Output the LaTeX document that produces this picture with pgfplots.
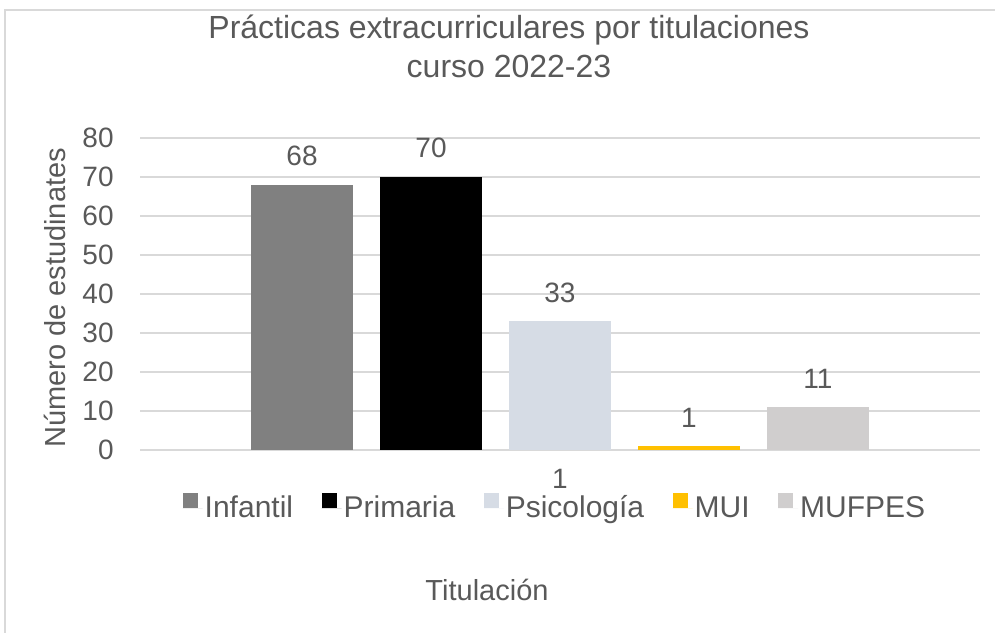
\documentclass[border=0pt]{standalone}
\usepackage{fontspec}
\setmainfont{Liberation Sans}
\usepackage{pgfplots}
\pgfplotsset{compat=1.18}
\definecolor{txt}{HTML}{595959}
\definecolor{gridc}{HTML}{D9D9D9}
\definecolor{cInf}{HTML}{808080}
\definecolor{cPri}{HTML}{000000}
\definecolor{cPsi}{HTML}{D6DCE5}
\definecolor{cMui}{HTML}{FFC000}
\definecolor{cMuf}{HTML}{D0CECE}
\begin{document}
\begin{tikzpicture}[x=0.5pt,y=0.5pt]
\path[use as bounding box] (0,0) rectangle (995,632);
\draw[gridc, line width=1pt] (5,-10) -- (5,622) -- (1005,622);
\node[text=txt, font=\fontsize{16}{19}\selectfont] at (509,602) {Prácticas extracurriculares por titulaciones};
\node[text=txt, font=\fontsize{16}{19}\selectfont] at (509,566) {curso 2022-23};
\node[rotate=90, text=txt, font=\fontsize{14.5}{17}\selectfont] at (55,334) {Número de estudinates};
\node[text=txt, font=\fontsize{14.5}{17}\selectfont] at (487,42) {Titulación};
\begin{axis}[
  at={(70pt,91pt)}, anchor=south west, scale only axis,
  width=420pt, height=156pt,
  xmin=-3.256, xmax=3.256, ymin=0, ymax=80,
  ytick={0,10,...,80}, xtick={0}, xticklabels={1},
  axis line style={draw=none}, major tick length=0pt,
  ymajorgrids, grid style={gridc, line width=1pt},
  clip=false,
  /pgf/number format/assume math mode=true,
  tick label style={font=\fontsize{14}{16}\selectfont, text=txt},
  yticklabel style={inner sep=0pt, xshift=-13pt},
  xticklabel style={inner sep=0pt, yshift=-9.5pt},
  legend style={at={(axis description cs:0.494,-0.186)}, anchor=center,
    draw=none, fill=none, legend columns=-1,
    font=\fontsize{15}{18}\selectfont, text=txt,
    nodes={inner sep=1pt},
    /tikz/every even column/.append style={column sep=13.25pt}},
  legend image code/.code={\fill[#1] (0pt,0pt) rectangle (7.5pt,7.5pt); \path (0pt,0pt) -- (10pt,0pt);},
  bar width=51pt,
  nodes near coords,
  every node near coord/.append style={font=\fontsize{14}{16}\selectfont, text=txt, inner sep=0pt, yshift=9.25pt, anchor=south},
]
\addplot[ybar, bar shift=0pt, fill=cInf, draw=none] coordinates {(-2,68)};
\addplot[ybar, bar shift=0pt, fill=cPri, draw=none] coordinates {(-1,70)};
\addplot[ybar, bar shift=0pt, fill=cPsi, draw=none] coordinates {(0,33)};
\addplot[ybar, bar shift=0pt, fill=cMui, draw=none] coordinates {(1,1)};
\addplot[ybar, bar shift=0pt, fill=cMuf, draw=none] coordinates {(2,11)};
\legend{Infantil,Primaria,Psicología,MUI,MUFPES}
\end{axis}
\end{tikzpicture}
\end{document}
